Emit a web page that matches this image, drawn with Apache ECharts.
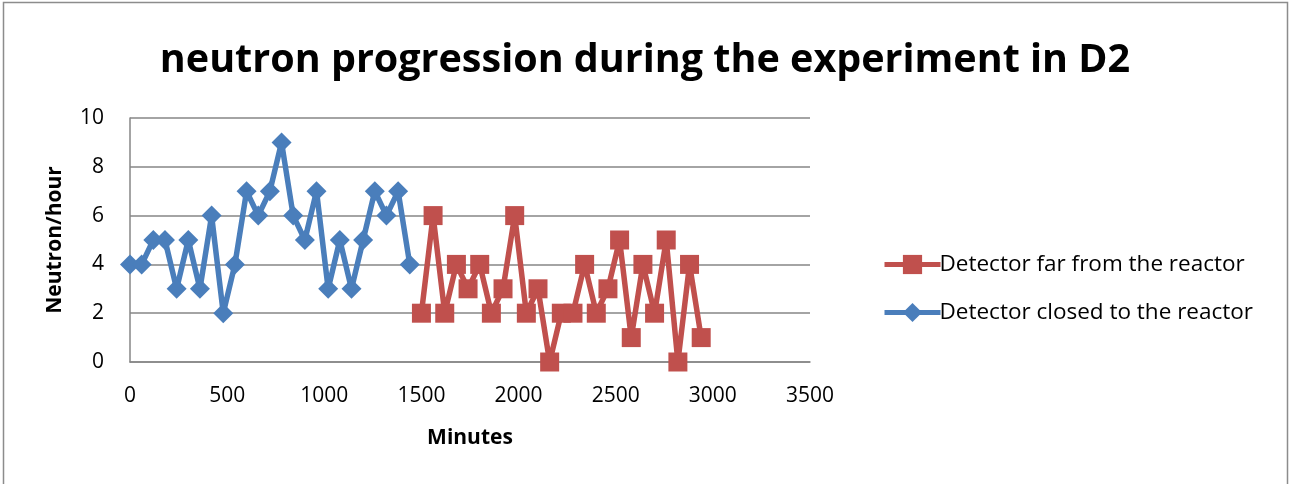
<!DOCTYPE html>
<html><head><meta charset="utf-8">
<script src="https://cdn.jsdelivr.net/npm/echarts@6/dist/echarts.min.js"></script>
<style>html,body{margin:0;padding:0;background:#fff}#c{width:1290px;height:484px}</style>
</head><body><div id="c"></div>
<script>
const closeMinutes = [0,60,120,180,240,300,360,420,480,540,600,660,720,780,840,900,960,1020,1080,1140,1200,1260,1320,1380,1440];
const closeValues  = [4,4,5,5,3,5,3,6,2,4,7,6,7,9,6,5,7,3,5,3,5,7,6,7,4];
const farMinutes   = [1500,1560,1620,1680,1740,1800,1860,1920,1980,2040,2100,2160,2220,2280,2340,2400,2460,2520,2580,2640,2700,2760,2820,2880,2940];
const farValues    = [2,6,2,4,3,4,2,3,6,2,3,0,2,2,4,2,3,5,1,4,2,5,0,4,1];
const xTicks = [0,500,1000,1500,2000,2500,3000,3500];
const yTicks = [0,2,4,6,8,10];
const seriesNames = ['Detector far from the reactor','Detector closed to the reactor'];
const titleText = 'neutron progression during the experiment in D2';

const chart = echarts.init(document.getElementById('c'));
const font = "'Open Sans', 'Noto Sans', sans-serif";
chart.setOption({
  animation: false,
  title: { text: titleText, left: 'center', top: 36,
    textStyle: { fontFamily: font, fontWeight: 'bold', fontSize: 39.5, color: '#000' } },
  graphic: [{ type: 'rect', shape: { x: 3.5, y: 2.5, width: 1284, height: 490 },
    style: { fill: 'none', stroke: '#8c8c8c', lineWidth: 1.5 }, silent: true }],
  grid: { left: 130, right: 480, top: 118, bottom: 122 },
  legend: { orient: 'vertical', left: 877, top: 248, itemWidth: 56, itemHeight: 24, itemGap: 25,
    data: seriesNames,
    lineStyle: { width: 5 },
    textStyle: { fontFamily: font, fontSize: 22.5, color: '#000', padding: [0,0,0,-6] } },
  xAxis: { type: 'value', min: xTicks[0], max: xTicks[xTicks.length-1], interval: 500,
    name: 'Minutes', nameLocation: 'middle', nameGap: 66,
    nameTextStyle: { fontFamily: font, fontWeight: 'bold', fontSize: 21, color: '#000' },
    axisLine: { show: true, lineStyle: { color: '#868686', width: 1.5 } },
    axisTick: { show: false },
    splitLine: { show: false },
    axisLabel: { fontFamily: font, fontSize: 21, color: '#000', margin: 24,
      formatter: v => xTicks.includes(v) ? String(v) : '' } },
  yAxis: { type: 'value', min: yTicks[0], max: yTicks[yTicks.length-1], interval: 2,
    name: 'Neutron/hour', nameLocation: 'middle', nameGap: 64, nameRotate: 90,
    nameTextStyle: { fontFamily: font, fontWeight: 'bold', fontSize: 21, color: '#000' },
    axisLine: { show: true, lineStyle: { color: '#868686', width: 1.5 } },
    axisTick: { show: false },
    splitLine: { show: true, lineStyle: { color: '#868686', width: 1.5 } },
    axisLabel: { fontFamily: font, fontSize: 21, color: '#000', margin: 26,
      formatter: v => yTicks.includes(v) ? String(v) : '' } },
  series: [
    { name: seriesNames[1], type: 'line', data: closeMinutes.map((m,i)=>[m, closeValues[i]]),
      symbol: 'diamond', symbolSize: 20, color: '#4a7ebb',
      lineStyle: { width: 5.5, color: '#4a7ebb' }, itemStyle: { color: '#4a7ebb' } },
    { name: seriesNames[0], type: 'line', data: farMinutes.map((m,i)=>[m, farValues[i]]),
      symbol: 'rect', symbolSize: 19, color: '#c0504d',
      lineStyle: { width: 5.5, color: '#c0504d' }, itemStyle: { color: '#c0504d' } }
  ]
});
</script></body></html>
